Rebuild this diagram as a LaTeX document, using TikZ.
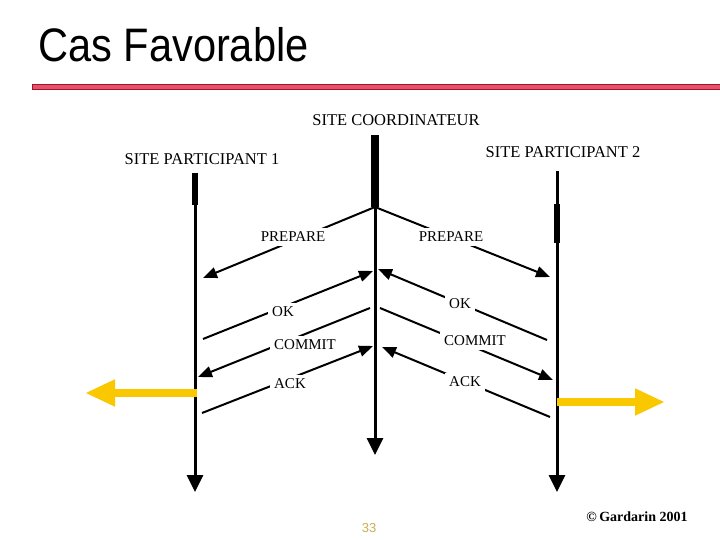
\documentclass[tikz,border=0pt]{standalone}
\usepackage{fontspec}
\setmainfont{Liberation Serif}
\newfontfamily\titlefont{Liberation Sans}
\usetikzlibrary{arrows.meta}
\definecolor{cfyellow}{RGB}{250,200,0}
\definecolor{cfred}{RGB}{232,80,104}
\definecolor{cfdarkred}{RGB}{160,20,50}
\definecolor{cfolive}{RGB}{200,175,80}

\begin{document}
\begin{tikzpicture}[x=1pt, y=-1pt,
    site/.style={inner sep=1pt, font=\fontsize{16.5}{18}\selectfont},
    msg/.style={line width=2pt, -{Triangle[length=14pt,width=11pt]}},
    msglabel/.style={fill=white, inner sep=4pt, font=\fontsize{15}{17}\selectfont},
    lifeline/.style={line width=3pt, -{Triangle[length=17pt,width=16pt]}},
    active/.style={line width=7pt},
    outcome/.style={cfyellow, line width=8pt, -{Triangle[length=30pt,width=25pt]}},
]
    \useasboundingbox (0,0) rectangle (720,540);

    % Title
    \node[anchor=base west, inner sep=0pt] (title) at (38,62)
        {\titlefont\fontsize{47}{50}\selectfont\scalebox{0.885}[1]{Cas Favorable}};
    \filldraw[fill=cfred, draw=cfdarkred, line width=1pt] (32,85) rectangle (720,90);

    % Sites
    \node[site] (coord) at (396,120) {SITE COORDINATEUR};
    \node[site] (part1) at (202,159) {SITE PARTICIPANT 1};
    \node[site] (part2) at (563,152) {SITE PARTICIPANT 2};

    % Lifelines
    \coordinate (p1top) at (195,173);
    \coordinate (p1act) at (195,205);
    \coordinate (p1end) at (195,492);
    \coordinate (cotop) at (375,135);
    \coordinate (coact) at (375,207);
    \coordinate (coend) at (375,455);
    \coordinate (p2top) at (557,171);
    \coordinate (p2act) at (557,204);
    \coordinate (p2low) at (557,243);
    \coordinate (p2end) at (557,492);

    \draw[active, line width=6pt] (p1top) -- (p1act);
    \draw[lifeline] (p1act) -- (p1end);
    \draw[active, line width=8pt] (cotop) -- (coact);
    \draw[lifeline] (coact) -- (coend);
    \draw[line width=3pt] (p2top) -- (p2act);
    \draw[active, line width=6pt] (p2act) -- (p2low);
    \draw[lifeline] (p2low) -- (p2end);

    % Message end points
    \coordinate (prep1) at (203,278);
    \coordinate (prep2) at (550,277);
    \coordinate (ok1from) at (203,339);
    \coordinate (ok1to) at (373,271);
    \coordinate (ok2from) at (547,340);
    \coordinate (ok2to) at (378,269);
    \coordinate (com1from) at (370,308);
    \coordinate (com1to) at (198,377);
    \coordinate (com2from) at (380,308);
    \coordinate (com2to) at (553,380);
    \coordinate (ack1from) at (202,413);
    \coordinate (ack1to) at (373,346);
    \coordinate (ack2from) at (550,417);
    \coordinate (ack2to) at (382,347);

    \draw[msg] (coact) -- (prep1);
    \draw[msg] (coact) -- (prep2);
    \draw[msg] (ok1from) -- (ok1to);
    \draw[msg] (ok2from) -- (ok2to);
    \draw[msg] (com1from) -- (com1to);
    \draw[msg] (com2from) -- (com2to);
    \draw[msg] (ack1from) -- (ack1to);
    \draw[msg] (ack2from) -- (ack2to);

    % Message labels
    \node[msglabel] (lprep1) at (293,237) {PREPARE};
    \node[msglabel] (lprep2) at (451,237) {PREPARE};
    \node[msglabel] (lok1) at (283,312) {OK};
    \node[msglabel] (lok2) at (460,304) {OK};
    \node[msglabel] (lcom1) at (305,345) {COMMIT};
    \node[msglabel] (lcom2) at (475,341) {COMMIT};
    \node[msglabel] (lack1) at (290,384) {ACK};
    \node[msglabel] (lack2) at (465,382) {ACK};

    % Outcome arrows
    \coordinate (out1from) at (197,393);
    \coordinate (out1to) at (85,393);
    \coordinate (out2from) at (557,402);
    \coordinate (out2to) at (665,402);
    \draw[outcome] (out1from) -- (out1to);
    \draw[outcome] (out2from) -- (out2to);

    % Footer
    \node[cfolive, font=\titlefont\fontsize{13}{15}\selectfont] (page) at (369,528) {33};
    \node[font=\bfseries\fontsize{14}{16}\selectfont] (copy) at (637,517) {\textcopyright\,Gardarin 2001};
\end{tikzpicture}
\end{document}
